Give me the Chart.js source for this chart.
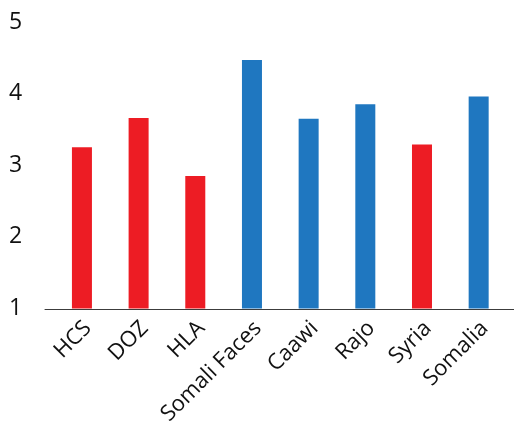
<!DOCTYPE html>
<html>
<head>
<meta charset="utf-8">
<script src="https://cdn.jsdelivr.net/npm/chart.js@4"></script>
<style>
  body { margin: 0; background: #fff; }
  #wrap { width: 514px; height: 423px; }
</style>
</head>
<body>
<div id="wrap"><canvas id="chart" width="514" height="423"></canvas></div>
<script>
// data
var categories = ["HCS", "DOZ", "HLA", "Somali Faces", "Caawi", "Rajo", "Syria", "Somalia"];
var scores = [3.25, 3.66, 2.85, 4.47, 3.65, 3.85, 3.29, 3.96];
var barColors = ["#ed1c24", "#ed1c24", "#ed1c24", "#1f77c0", "#1f77c0", "#1f77c0", "#ed1c24", "#1f77c0"];
var yTicks = [1, 2, 3, 4, 5];

// base line under the bars, a bit wider than the plot area
var baseLine = {
  id: "baseLine",
  afterDraw: function(chart) {
    var ctx = chart.ctx;
    var y = Math.round(chart.scales.y.getPixelForValue(yTicks[0])) + 0.5;
    ctx.save();
    ctx.strokeStyle = "#3c3c3c";
    ctx.lineWidth = 1.2;
    ctx.beginPath();
    ctx.moveTo(chart.chartArea.left - 9, y);
    ctx.lineTo(chart.width, y);
    ctx.stroke();
    ctx.restore();
  }
};

new Chart(document.getElementById("chart"), {
  type: "bar",
  data: {
    labels: categories,
    datasets: [{
      data: scores,
      backgroundColor: barColors,
      borderWidth: 0,
      barPercentage: 0.353,
      categoryPercentage: 1.0
    }]
  },
  options: {
    responsive: false,
    animation: false,
    layout: { padding: { left: 9, right: 7, top: 22, bottom: 0 } },
    plugins: { legend: { display: false }, tooltip: { enabled: false } },
    scales: {
      x: {
        grid: { display: false, drawTicks: false },
        border: { display: false },
        afterFit: function(scale) { scale.height = 114.5; },
        ticks: {
          color: "#111",
          font: { family: "Open Sans", size: 22 },
          minRotation: 45,
          maxRotation: 45,
          autoSkip: false,
          padding: 7,
          labelOffset: 6
        }
      },
      y: {
        min: 1,
        max: 5,
        grid: { display: false, drawTicks: false },
        border: { display: false },
        afterFit: function(scale) { scale.width = 44.6; },
        afterBuildTicks: function(scale) {
          scale.ticks = yTicks.map(function(v) { return { value: v }; });
        },
        ticks: {
          color: "#111",
          crossAlign: "far",
          font: { family: "Open Sans", size: 23 }
        }
      }
    }
  },
  plugins: [baseLine]
});
</script>
</body>
</html>
